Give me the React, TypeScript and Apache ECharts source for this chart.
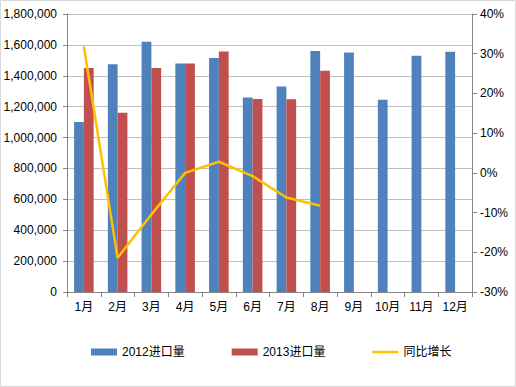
import React, { useEffect, useRef } from "react";
import * as echarts from "echarts";

const categories = ["1月", "2月", "3月", "4月", "5月", "6月", "7月", "8月", "9月", "10月", "11月", "12月"];
const imports2012 = [1100000, 1475000, 1620000, 1480000, 1515000, 1260000, 1330000, 1560000, 1550000, 1245000, 1530000, 1555000];
const imports2013 = [1450000, 1160000, 1450000, 1480000, 1558000, 1250000, 1248000, 1433000];
const yoyGrowth = [31.8, -21.4, -10.5, 0, 2.8, -0.8, -6.2, -8.3];
const seriesNames = ["2012进口量", "2013进口量", "同比增长"];

const FONT = "'Liberation Sans', 'Noto Sans CJK SC', sans-serif";

export default function App() {
  const ref = useRef<HTMLDivElement>(null);
  useEffect(() => {
    document.body.style.margin = "0";
    const chart = echarts.init(ref.current!, null, { renderer: "svg" });
    const axisLabel = { color: "#000", fontSize: 12, fontFamily: FONT };
    chart.setOption({
      animation: false,
      backgroundColor: "#fff",
      textStyle: { fontFamily: FONT },
      grid: { left: 67, right: 44, top: 14, bottom: 95, containLabel: false },
      legend: {
        left: 86,
        top: 341,
        itemWidth: 26,
        itemHeight: 7,
        itemGap: 47,
        textStyle: { color: "#000", fontSize: 12, fontFamily: FONT },
        data: [
          { name: seriesNames[0], icon: "rect" },
          { name: seriesNames[1], icon: "rect" },
          {
            name: seriesNames[2],
            icon: "path://M0,0L0.01,0L0.01,0.01Z M0,2.3L26,2.3L26,4.7L0,4.7Z M26,7L25.99,7L25.99,6.99Z",
            itemStyle: { color: "#FFC000", borderWidth: 0 },
          },
        ],
      },
      graphic: [
        {
          type: "rect",
          shape: { x: 0.5, y: 0.5, width: 515, height: 386 },
          style: { fill: "none", stroke: "#D9D9D9", lineWidth: 1 },
          silent: true,
        },
      ],
      xAxis: {
        type: "category",
        data: categories,
        axisLine: { lineStyle: { color: "#878787" } },
        axisTick: { show: true, length: 5, lineStyle: { color: "#878787" } },
        axisLabel: { ...axisLabel, margin: 9 },
      },
      yAxis: [
        {
          type: "value",
          min: 0,
          max: 1800000,
          interval: 200000,
          axisLine: { show: true, lineStyle: { color: "#878787" } },
          axisTick: { show: true, length: 4, lineStyle: { color: "#878787" } },
          splitLine: { lineStyle: { color: "#BFBFBF" } },
          axisLabel: {
            ...axisLabel,
            margin: 10,
            formatter: (v: number) => v.toLocaleString("en-US"),
          },
        },
        {
          type: "value",
          min: -30,
          max: 40,
          interval: 10,
          position: "right",
          axisLine: { show: true, lineStyle: { color: "#878787" } },
          axisTick: { show: true, length: 5, lineStyle: { color: "#878787" } },
          splitLine: { show: false },
          axisLabel: { ...axisLabel, margin: 8, formatter: (v: number) => v + "%" },
        },
      ],
      series: [
        {
          name: seriesNames[0],
          type: "bar",
          data: imports2012,
          itemStyle: { color: "#4F81BD" },
          barGap: "0%",
          barCategoryGap: "42%",
        },
        {
          name: seriesNames[1],
          type: "bar",
          data: imports2013,
          itemStyle: { color: "#C0504D" },
          barGap: "0%",
          barCategoryGap: "42%",
        },
        {
          name: seriesNames[2],
          type: "line",
          yAxisIndex: 1,
          data: yoyGrowth,
          symbol: "none",
          smooth: false,
          lineStyle: { color: "#FFC000", width: 2.5 },
          itemStyle: { color: "#FFC000" },
        },
      ],
    });
    return () => chart.dispose();
  }, []);
  return <div ref={ref} style={{ width: 516, height: 387 }} />;
}
